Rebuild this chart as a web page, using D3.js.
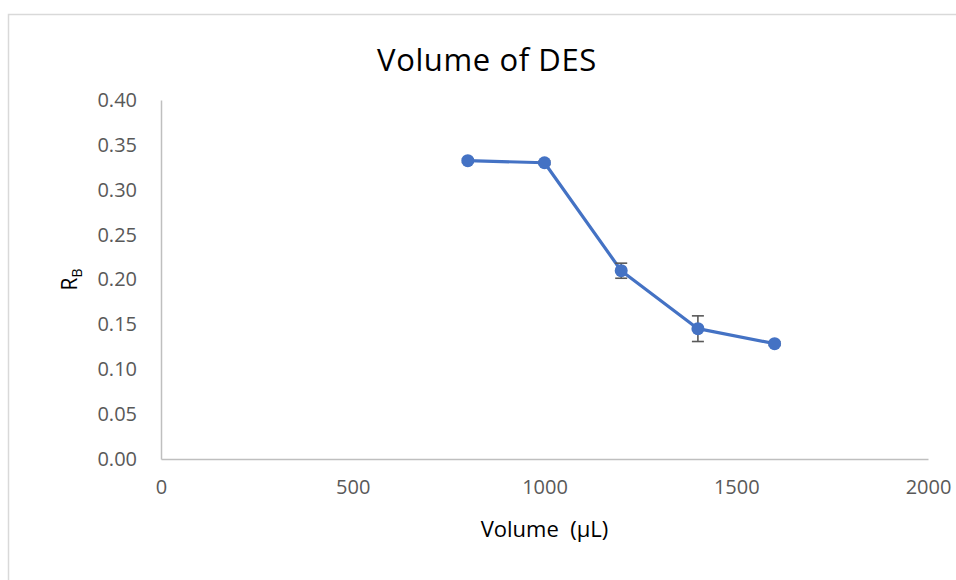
<!DOCTYPE html>
<html><head><meta charset="utf-8">
<script src="https://cdn.jsdelivr.net/npm/d3@7"></script>
<style>body{margin:0;background:#fff}svg{display:block}</style>
</head><body>
<svg id="c" width="956" height="580"></svg>
<script>
const volumes = [800, 1000, 1200, 1400, 1600];
const rbValues = [0.3324, 0.3301, 0.2098, 0.1452, 0.1285];
const rbErrors = [0.002, 0.002, 0.0084, 0.0143, 0.002];
const xTicks = [0, 500, 1000, 1500, 2000];
const yTicks = [0, 0.05, 0.10, 0.15, 0.20, 0.25, 0.30, 0.35, 0.40];
const titleText = "Volume of DES";
const xTitle = "Volume  (μL)";

const svg = d3.select("#c");
const m = {l:161, r:28, t:100, b:121};
const W = 956, H = 580;
const x = d3.scaleLinear().domain([0,2000]).range([m.l, W-m.r]);
const y = d3.scaleLinear().domain([0,0.40]).range([H-m.b, m.t]);

svg.append("rect").attr("x",8.5).attr("y",14.5).attr("width",980).attr("height",620)
  .attr("fill","#fff").attr("stroke","#d9d9d9").attr("stroke-width",1.5);

const font = "'Open Sans', sans-serif";

const ya = svg.append("g").attr("transform",`translate(${m.l},0)`)
  .call(d3.axisLeft(y).tickValues(yTicks).tickFormat(d3.format(".2f")).tickSize(0).tickPadding(24));
const xa = svg.append("g").attr("transform",`translate(0,${H-m.b})`)
  .call(d3.axisBottom(x).tickValues(xTicks).tickFormat(d3.format("d")).tickSize(0).tickPadding(21));
[ya,xa].forEach(a=>{
  a.select(".domain").attr("stroke","#bfbfbf").attr("stroke-width",1.5);
  a.selectAll("text").attr("fill","#595959").style("font-family",font).style("font-size","20px");
});

// line
svg.append("path").datum(volumes.map((v,i)=>[v,rbValues[i]]))
  .attr("fill","none").attr("stroke","#4472c4").attr("stroke-width",3.2)
  .attr("stroke-linejoin","round")
  .attr("d", d3.line().x(d=>x(d[0])).y(d=>y(d[1])));

// error bars
const eb = svg.append("g").attr("stroke","#595959").attr("stroke-width",1.6);
volumes.forEach((v,i)=>{
  const cx = x(v), y1 = y(rbValues[i]+rbErrors[i]), y2 = y(rbValues[i]-rbErrors[i]);
  eb.append("line").attr("x1",cx).attr("x2",cx).attr("y1",y1).attr("y2",y2);
  eb.append("line").attr("x1",cx-6).attr("x2",cx+6).attr("y1",y1).attr("y2",y1);
  eb.append("line").attr("x1",cx-6).attr("x2",cx+6).attr("y1",y2).attr("y2",y2);
});

// markers
svg.append("g").selectAll("circle").data(volumes).join("circle")
  .attr("cx",d=>x(d)).attr("cy",(d,i)=>y(rbValues[i])).attr("r",6.5)
  .attr("fill","#4472c4");

// title
svg.append("text").attr("x",487).attr("y",71).attr("text-anchor","middle")
  .style("font-family",font).style("font-size","31px").style("letter-spacing","0.6px")
  .attr("fill","#000").text(titleText);

// x title
svg.append("text").attr("x",(m.l+W-m.r)/2).attr("y",537).attr("text-anchor","middle")
  .style("font-family",font).style("font-size","22px").style("white-space","pre")
  .attr("fill","#000").text(xTitle);

// y title R_B
const yt = svg.append("text").attr("transform",`translate(77,${(m.t+H-m.b)/2}) rotate(-90)`)
  .attr("text-anchor","middle").style("font-family",font).style("font-size","21px").attr("fill","#000");
yt.append("tspan").text("R");
yt.append("tspan").attr("dy",5).style("font-size","14px").text("B");
</script>
</body></html>
